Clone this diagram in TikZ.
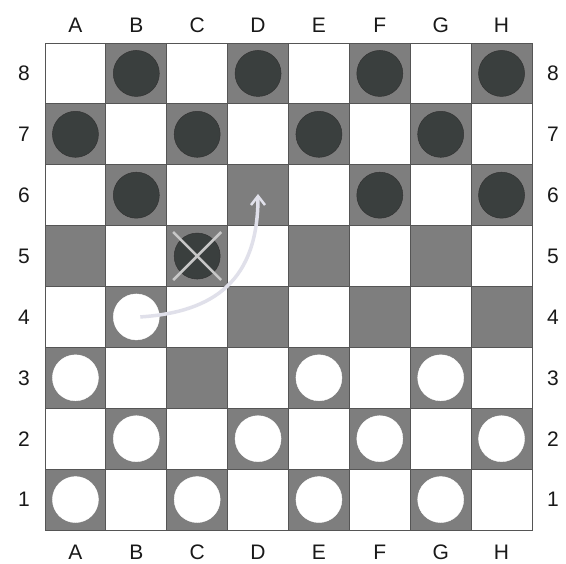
\documentclass[tikz,border=0pt]{standalone}
\usepackage{fontspec}
\setmainfont{Liberation Sans}
\usetikzlibrary{arrows.meta}
\definecolor{darksq}{HTML}{7E7E7E}
\definecolor{blackpc}{HTML}{3A3F3E}
\definecolor{gridc}{HTML}{555555}
\definecolor{arrowc}{HTML}{E0E0EA}
\tikzset{
  sq/.style={fill=darksq, draw=gridc, line width=0.8pt},
  blackpiece/.style={circle, fill=blackpc, draw=black!80, line width=0.5pt, minimum size=46pt, inner sep=0pt},
  whitepiece/.style={circle, fill=white, draw=white, minimum size=46pt, inner sep=0pt},
  lbl/.style={font=\fontsize{21}{21}\selectfont, text=black!90, inner sep=0pt},
  movearrow/.style={draw=arrowc, line width=3.5pt, -{Straight Barb[length=9pt,width=14pt,line width=2.5pt]}},
  crossline/.style={draw=black!22, line width=2.6pt},
}
\begin{document}
\begin{tikzpicture}[x=1pt,y=-1pt]
\useasboundingbox (0,0) rectangle (566,564);
\fill[white] (0,0) rectangle (566,564);
\def\sz{60.875}
% squares
\foreach \i in {0,...,7}{
  \foreach \r in {0,...,7}{
    \pgfmathtruncatemacro{\p}{mod(\i+\r,2)}
    \ifnum\p=1
      \draw[sq] ({45+\i*\sz},{43+\r*\sz}) rectangle ++(\sz,\sz);
    \fi
  }
}
\draw[gridc, line width=0.9pt] (45,43) rectangle (532,530);
% labels
\foreach \l [count=\k from 0] in {A,B,C,D,E,F,G,H}{
  \node[lbl] (top\l) at ({45+(\k+0.5)*\sz},25) {\l};
  \node[lbl] (bot\l) at ({45+(\k+0.5)*\sz},552) {\l};
}
\foreach \n [count=\k from 0] in {8,7,6,5,4,3,2,1}{
  \node[lbl] (left\n) at (24,{43+(\k+0.5)*\sz}) {\n};
  \node[lbl] (right\n) at (553,{43+(\k+0.5)*\sz}) {\n};
}
% pieces: (col index, row index from top)
\foreach \i/\r/\nm in {1/0/b8,3/0/d8,5/0/f8,7/0/h8,0/1/a7,2/1/c7,4/1/e7,6/1/g7,1/2/b6,5/2/f6,7/2/h6,2/3/c5}{
  \node[blackpiece] (\nm) at ({45+(\i+0.5)*\sz},{43+(\r+0.5)*\sz}) {};
}
\foreach \i/\r/\nm in {1/4/b4,0/5/a3,4/5/e3,6/5/g3,1/6/b2,3/6/d2,5/6/f2,7/6/h2,0/7/a1,2/7/c1,4/7/e1,6/7/g1}{
  \node[whitepiece] (\nm) at ({45+(\i+0.5)*\sz},{43+(\r+0.5)*\sz}) {};
}
% cross on captured piece
\draw[crossline] ([shift={(-24,-24)}]c5.center) -- ([shift={(24,24)}]c5.center);
\draw[crossline] ([shift={(24,-24)}]c5.center) -- ([shift={(-24,24)}]c5.center);
% move arrow
\coordinate (target) at (258,194);
\draw[movearrow] ([xshift=4pt]b4.center) .. controls (215,312) and (258,280) .. (target);
\end{tikzpicture}
\end{document}
